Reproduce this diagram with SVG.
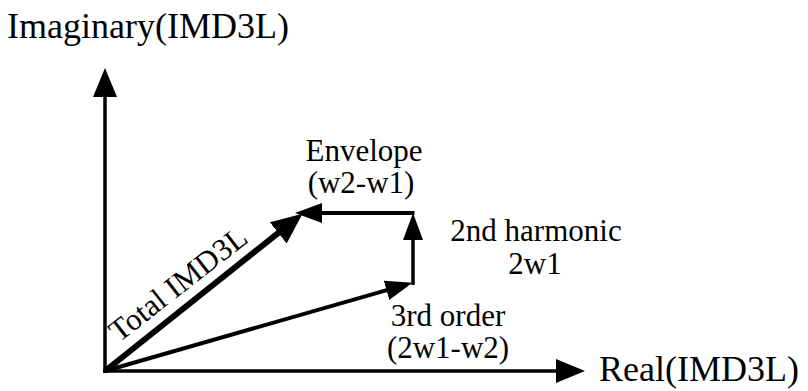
<svg xmlns="http://www.w3.org/2000/svg" width="808" height="391" viewBox="0 0 808 391">
  <style>
    .lbl { font-family: "Liberation Serif", "Times New Roman", serif; fill: #000; }
    .axis-lbl { font-size: 36px; }
    .vec-lbl { font-size: 31px; }
    .ln { stroke: #000; fill: none; stroke-linecap: butt; }
  </style>
  <defs>
    <!-- arrowheads, tip at the right end of each path -->
    <marker id="head-axis" markerUnits="userSpaceOnUse" markerWidth="30" markerHeight="24" refX="14" refY="12" orient="auto">
      <path d="M0,0 L29,12 L0,24 Z" fill="#000"/>
    </marker>
    <marker id="head-big" markerUnits="userSpaceOnUse" markerWidth="31" markerHeight="27" refX="15" refY="13.5" orient="auto">
      <path d="M0,0 L31,13.5 L0,27 Z" fill="#000"/>
    </marker>
    <marker id="head-mid" markerUnits="userSpaceOnUse" markerWidth="27" markerHeight="20" refX="13" refY="10" orient="auto">
      <path d="M0,0 L27,10 L0,20 Z" fill="#000"/>
    </marker>
  </defs>

  <rect width="808" height="391" fill="#fff"/>

  <g id="connectors">
    <!-- axes -->
    <line id="axis-imag" class="ln" x1="105" y1="373" x2="105" y2="83" stroke-width="3.5" marker-end="url(#head-axis)"/>
    <line id="axis-real" class="ln" x1="103" y1="371" x2="570" y2="371" stroke-width="3.5" marker-end="url(#head-axis)"/>
    <!-- 3rd order vector -->
    <line id="vec-3rd" class="ln" x1="105" y1="371" x2="399" y2="286.7" stroke-width="4" marker-end="url(#head-mid)"/>
    <!-- 2nd harmonic vector -->
    <line id="vec-2nd" class="ln" x1="413" y1="285" x2="413" y2="227" stroke-width="3.5" marker-end="url(#head-mid)"/>
    <!-- envelope vector -->
    <line id="vec-env" class="ln" x1="414.5" y1="213" x2="309" y2="213" stroke-width="4" marker-end="url(#head-mid)"/>
    <!-- resulting total vector -->
    <line id="vec-total" class="ln" x1="105" y1="371" x2="290" y2="223.6" stroke-width="6" marker-end="url(#head-big)"/>
  </g>

  <g id="label-imag">
    <text class="lbl axis-lbl" x="7" y="38">Imaginary(IMD3L)</text>
  </g>
  <g id="label-real">
    <text class="lbl axis-lbl" x="599" y="381">Real(IMD3L)</text>
  </g>
  <g id="label-envelope">
    <text class="lbl vec-lbl" x="364" y="161" text-anchor="middle">Envelope</text>
    <text class="lbl vec-lbl" x="361" y="193" text-anchor="middle">(w2-w1)</text>
  </g>
  <g id="label-2nd">
    <text class="lbl vec-lbl" x="536" y="241" text-anchor="middle">2nd harmonic</text>
    <text class="lbl vec-lbl" x="535" y="274" text-anchor="middle">2w1</text>
  </g>
  <g id="label-3rd">
    <text class="lbl vec-lbl" x="448" y="326" text-anchor="middle">3rd order</text>
    <text class="lbl vec-lbl" x="448" y="358" text-anchor="middle">(2w1-w2)</text>
  </g>
  <g id="label-total">
    <text class="lbl vec-lbl" transform="translate(119,343) rotate(-38)" font-size="33">Total IMD3L</text>
  </g>
</svg>
